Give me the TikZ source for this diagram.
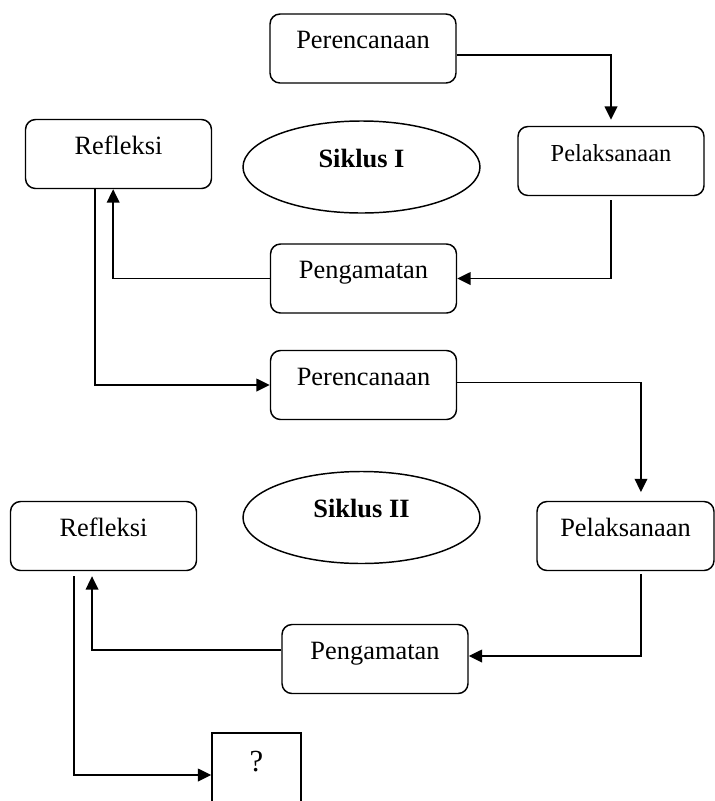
\documentclass[tikz,border=0pt]{standalone}
\usepackage{fontspec}
\setmainfont{Liberation Serif}
\usetikzlibrary{arrows.meta,shapes.geometric}
\tikzset{
    stage/.style={draw, rounded corners=7.5pt, line width=1.1pt, inner sep=0pt,
        minimum width=139.5pt, minimum height=51.75pt, text height=11pt, text depth=11pt,
        font=\fontsize{19.8}{23}\selectfont},
    cycle/.style={draw, ellipse, line width=1.1pt, inner sep=0pt,
        minimum width=177.75pt, minimum height=69pt, text height=14pt, text depth=14pt,
        font=\fontsize{19.8}{23}\selectfont\bfseries},
    endbox/.style={draw, line width=1.1pt, inner sep=0pt,
        minimum width=66.75pt, minimum height=57pt, text height=11pt, text depth=11pt,
        font=\fontsize{23}{26}\selectfont},
    flow/.style={line width=1.1pt, -{Triangle[length=10pt,width=9.5pt]}}
}
\begin{document}
\begin{tikzpicture}[x=0.75pt,y=0.75pt,yscale=-1,xscale=1]
    \clip (0,0) rectangle (715,801);
    \node (plan1) [stage] at (363,48.5) {Perencanaan};
    \node (exec1) [stage, font=\fontsize{18.3}{22}\selectfont] at (611,161) {Pelaksanaan};
    \node (obs1) [stage] at (363.5,278.5) {Pengamatan};
    \node (refl1) [stage] at (118.5,154) {Refleksi};
    \node (cyc1) [cycle] at (361.5,167) {Siklus I};
    \node (plan2) [stage] at (363.5,385) {Perencanaan};
    \node (exec2) [stage, minimum width=132.75pt] at (625.5,536) {Pelaksanaan};
    \node (obs2) [stage] at (375,659) {Pengamatan};
    \node (refl2) [stage] at (103.5,536) {Refleksi};
    \node (cyc2) [cycle] at (361.5,517.5) {Siklus II};
    \node (next) [endbox] at (256.5,771) {?};
    \draw [flow, shorten >=4.5pt] ([yshift=5pt]plan1.east) -| (exec1.north);
    \draw [flow, shorten <=3pt] (exec1.south) |- (obs1.east);
    \draw [flow] (obs1.west) -| ([xshift=-4pt]refl1.south);
    \draw [flow] ([xshift=-17.6pt]refl1.south) |- (plan2.west);
    \draw [flow, shorten >=6.5pt] ([yshift=-2pt]plan2.east) -| ([xshift=11.6pt]exec2.north);
    \draw [flow, shorten <=2pt] ([xshift=11.6pt]exec2.south) |- ([yshift=-2.25pt]obs2.east);
    \draw [flow, shorten >=3.75pt] ([yshift=-6.75pt]obs2.west) -| ([xshift=-8.6pt]refl2.south);
    \draw [flow, shorten <=3.75pt] ([xshift=-22pt]refl2.south) |- ([yshift=3pt]next.west);
\end{tikzpicture}
\end{document}
